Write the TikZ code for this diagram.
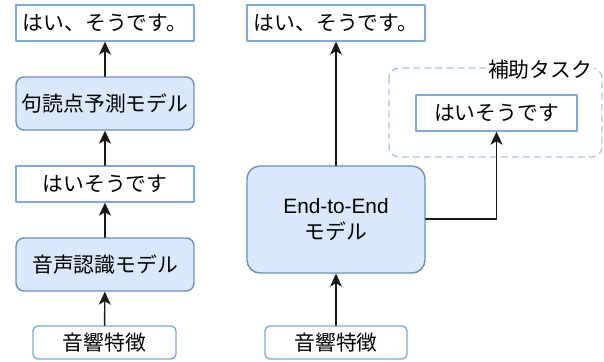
\documentclass[tikz,border=0pt]{standalone}
\usepackage{fontspec}
\setmainfont{Liberation Sans}
\newfontfamily\jpfont{Noto Sans CJK JP}
\usepackage{xcolor}
\usetikzlibrary{arrows.meta}
\definecolor{boxline}{HTML}{7EA6E0}
\definecolor{modelline}{HTML}{6C8EBF}
\definecolor{modelfill}{HTML}{DAE8FC}
\definecolor{groupline}{HTML}{A9C4EB}

\begin{document}
\begin{tikzpicture}[x=1pt,y=-1pt,line cap=round,line join=round,
    font=\jpfont\fontsize{20.8}{25}\selectfont,
    textbox/.style={draw=boxline,line width=1.4pt,fill=white,inner sep=0pt,
        minimum width=178pt,minimum height=36pt},
    modelbox/.style={draw=modelline,line width=1.4pt,fill=modelfill,rounded corners=8pt,
        inner sep=0pt,minimum width=178pt,minimum height=53pt},
    featbox/.style={draw=boxline,line width=1.4pt,fill=white,rounded corners=5pt,
        inner sep=0pt,minimum width=143pt,minimum height=33pt},
    flow/.style={draw=black!90,line width=1.4pt,-{Stealth[length=13pt,width=12pt,inset=3.5pt]}}]
    \useasboundingbox (0,0) rectangle (604,361);
    % left: cascade
    \node[textbox] (outA) at (105,23) {はい、そうです。};
    \node[modelbox] (punc) at (105,103.5) {句読点予測モデル};
    \node[textbox] (asrout) at (105,184) {はいそうです};
    \node[modelbox] (asr) at (105,264.5) {音声認識モデル};
    \node[featbox] (featA) at (104.5,342.5) {音響特徴};
    \draw[flow] (featA) -- (asr);
    \draw[flow] (asr) -- (asrout);
    \draw[flow] (asrout) -- (punc);
    \draw[flow] (punc) -- (outA);
    % right: end-to-end
    \node[textbox] (outB) at (336,23) {はい、そうです。};
    \node[modelbox,minimum height=107pt,rounded corners=13pt,align=center] (e2e) at (336,219.5)
        {{\fontspec{Liberation Sans}End-to-End}\\[1pt]モデル};
    \node[featbox,minimum width=142pt] (featB) at (336,342.5) {音響特徴};
    \draw[groupline,line width=1.4pt,dash pattern=on 6pt off 5pt,rounded corners=10pt]
        (389,68) rectangle (602,157);
    \node[fill=white,inner sep=2pt] (auxlabel) at (540,70) {補助タスク};
    \node[textbox,minimum width=161pt] (aux) at (496.5,113) {はいそうです};
    \coordinate (bend) at (496.5,219);
    \draw[flow] (featB) -- (e2e);
    \draw[flow] (e2e) -- (outB);
    \draw[flow] (e2e.east |- bend) -- (bend) -- (aux);
\end{tikzpicture}
\end{document}
